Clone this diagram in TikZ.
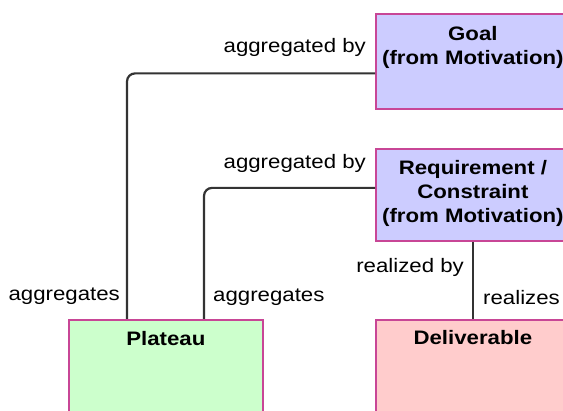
\documentclass[tikz,border=0pt]{standalone}
\usepackage{fontspec}
\setmainfont{Liberation Sans}[FakeStretch=1.14]
\definecolor{bordc}{RGB}{200,70,150}
\definecolor{motiv}{RGB}{204,204,255}
\definecolor{plat}{RGB}{204,255,204}
\definecolor{deliv}{RGB}{255,204,204}
\begin{document}
\begin{tikzpicture}[x=1pt,y=-1pt,
  elem/.style={draw=bordc,line width=1.8pt,anchor=north west,inner sep=0pt},
  title/.style={anchor=north,align=center,inner sep=0pt,font=\fontsize{19.5}{24}\selectfont\bfseries},
  rel/.style={inner sep=0pt,font=\fontsize{19.5}{24}\selectfont},
  conn/.style={draw=black!80,line width=2.2pt,rounded corners=8pt}]
\useasboundingbox (0,0) rectangle (563,411);
\node[elem,fill=motiv,minimum width=194pt,minimum height=95pt] (goal) at (375,13) {};
\node[elem,fill=motiv,minimum width=194pt,minimum height=92pt] (req) at (375,148) {};
\node[elem,fill=plat,minimum width=194pt,minimum height=100pt] (plat) at (68,319) {};
\node[elem,fill=deliv,minimum width=194pt,minimum height=100pt] (deliv) at (375,319) {};
\node[title] (goalt) at ([yshift=-13pt]goal.north) {Goal\\(from Motivation)};
\node[title] (reqt) at ([yshift=-12pt]req.north) {Requirement /\\Constraint\\(from Motivation)};
\node[title] (platt) at ([yshift=-12pt]plat.north) {Plateau};
\node[title] (delivt) at ([yshift=-11pt]deliv.north) {Deliverable};
\coordinate (c1) at ([xshift=59pt]plat.north west);
\coordinate (c2) at ([xshift=136pt]plat.north west);
\draw[conn] ([yshift=-12pt]goal.west) -| (c1);
\draw[conn] ([yshift=7pt]req.west) -| (c2);
\draw[conn] (req.south) -- (deliv.north);
\node[rel,anchor=base east] (l1) at (366,53) {aggregated by};
\node[rel,anchor=base east] (l2) at (366,169) {aggregated by};
\node[rel,anchor=base east] (l3) at (120,301) {aggregates};
\node[rel,anchor=base west] (l4) at (213,302) {aggregates};
\node[rel,anchor=base east] (l5) at (464,273) {realized by};
\node[rel,anchor=base west] (l6) at (483,305) {realizes};
\end{tikzpicture}
\end{document}
